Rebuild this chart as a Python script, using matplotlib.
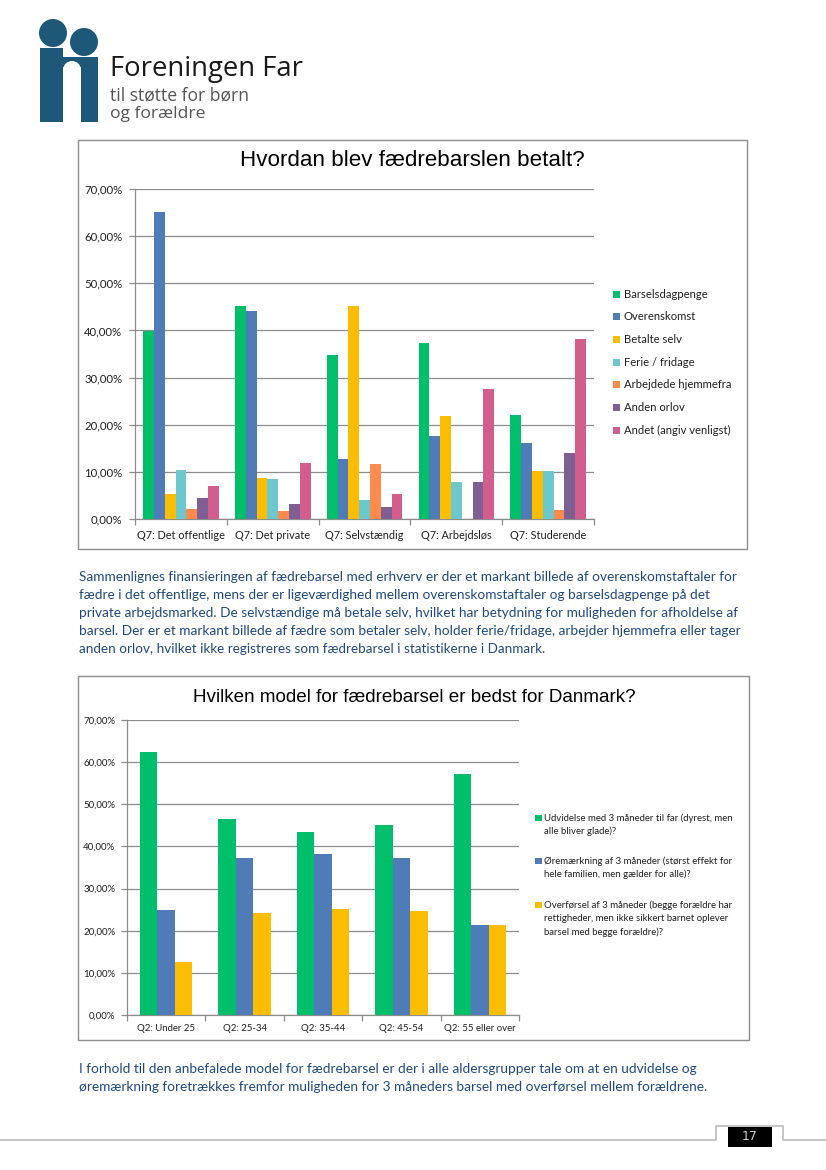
import matplotlib
matplotlib.use("Agg")
import matplotlib.pyplot as plt
from matplotlib.patches import Rectangle, Circle
import numpy as np

# ---------------- data ----------------
cats1 = ["Q7: Det offentlige", "Q7: Det private", "Q7: Selvstændig",
         "Q7: Arbejdsløs", "Q7: Studerende"]
series1 = ["Barselsdagpenge", "Overenskomst", "Betalte selv", "Ferie / fridage",
           "Arbejdede hjemmefra", "Anden orlov", "Andet (angiv venligst)"]
barselsdagpenge = [39.8, 45.1, 34.7, 37.3, 22.1]
overenskomst = [65.2, 44.1, 12.8, 17.7, 16.1]
betalte_selv = [5.2, 8.7, 45.1, 21.8, 10.1]
ferie_fridage = [10.3, 8.5, 4.0, 7.9, 10.1]
arbejdede_hjemmefra = [2.2, 1.8, 11.6, 0.0, 2.0]
anden_orlov = [4.5, 3.1, 2.6, 7.9, 14.1]
andet = [6.9, 11.8, 5.2, 27.6, 38.1]
colors1 = ["#00BF6A", "#4F7BB6", "#FBBD00", "#6CC8CC", "#FF8A4E", "#7F5F93", "#D35E8E"]

cats2 = ["Q2: Under 25", "Q2: 25-34", "Q2: 35-44", "Q2: 45-54", "Q2: 55 eller over"]
series2 = [["Udvidelse med 3 måneder til far (dyrest, men", "alle bliver glade)?"],
           ["Øremærkning af 3 måneder (størst effekt for", "hele familien, men gælder for alle)?"],
           ["Overførsel af 3 måneder (begge forældre har",
            "rettigheder, men ikke sikkert barnet oplever",
            "barsel med begge forældre)?"]]
udvidelse = [62.5, 46.5, 43.4, 45.2, 57.1]
oremaerkning = [25.0, 37.3, 38.1, 37.3, 21.4]
overforsel = [12.5, 24.1, 25.1, 24.7, 21.4]
colors2 = ["#00BF6A", "#4F7BB6", "#FBBD00"]

yticks = [0, 10, 20, 30, 40, 50, 60, 70]
ytick_labels = ["0,00%", "10,00%", "20,00%", "30,00%", "40,00%", "50,00%", "60,00%", "70,00%"]

title1 = "Hvordan blev fædrebarslen betalt?"
title2 = "Hvilken model for fædrebarsel er bedst for Danmark?"

para1 = ["Sammenlignes finansieringen af fædrebarsel med erhverv er der et markant billede af overenskomstaftaler for",
         "fædre i det offentlige, mens der er ligeværdighed mellem overenskomstaftaler og barselsdagpenge på det",
         "private arbejdsmarked. De selvstændige må betale selv, hvilket har betydning for muligheden for afholdelse af",
         "barsel. Der er et markant billede af fædre som betaler selv, holder ferie/fridage, arbejder hjemmefra eller tager",
         "anden orlov, hvilket ikke registreres som fædrebarsel i statistikerne i Danmark."]
para1_w = [654, 628, 654, 659, 464]
para2 = ["I forhold til den anbefalede model for fædrebarsel er der i alle aldersgrupper tale om at en udvidelse og",
         "øremærkning foretrækkes fremfor muligheden for 3 måneders barsel med overførsel mellem forældrene."]
para2_w = [614, 626]

# ---------------- figure ----------------
W, H = 826, 1170
fig = plt.figure(figsize=(W / 100, H / 100), dpi=100)
fig.patch.set_facecolor("white")
bg = fig.add_axes([0, 0, 1, 1])
bg.set_xlim(0, W)
bg.set_ylim(H, 0)
bg.axis("off")
renderer = fig.canvas.get_renderer()

TEXT_BLUE = "#1F497D"
GRID = "#8C8C8C"
LABEL = "#1E1E1E"


def add_ax(x0, y0, x1, y1):
    return fig.add_axes([x0 / W, 1 - y1 / H, (x1 - x0) / W, (y1 - y0) / H])


def fit_text(x, y, s, width, size0=10, **kw):
    t = bg.text(x, y, s, fontsize=size0, **kw)
    bb = t.get_window_extent(renderer=renderer)
    t.set_fontsize(size0 * width / bb.width)
    return t


# ---------------- logo ----------------
LOGO = "#1E5878"
bg.add_patch(Circle((53, 33), 14, color=LOGO, lw=0))
bg.add_patch(Circle((84, 42), 14, color=LOGO, lw=0))
bg.add_patch(Rectangle((40, 48), 23, 74, color=LOGO, lw=0))
bg.add_patch(Rectangle((81, 57), 17, 65, color=LOGO, lw=0))
bg.add_patch(Rectangle((63, 57), 35, 10, color=LOGO, lw=0))
bg.add_patch(Circle((72, 70), 9, color="white", lw=0))
fit_text(110, 76, "Foreningen Far", 193, family="Open Sans", color="#1A1A1A", va="baseline")
fit_text(110, 101, "til støtte for børn", 139, family="Open Sans", color="#555555", va="baseline")
fit_text(110, 118, "og forældre", 95, family="Open Sans", color="#555555", va="baseline")

# ---------------- chart 1 ----------------
bg.add_patch(Rectangle((78, 140), 669, 409, fill=False, edgecolor=GRID, lw=1))
fit_text(412, 161, title1, 345, family="Liberation Sans", color="black", ha="center", va="center")


def style_ax(ax, cats, tick_fs, lab_fs, ypad, xpad):
    ax.set_xlim(-0.5, len(cats) - 0.5)
    ax.set_ylim(0, 70)
    ax.set_yticks(yticks)
    ax.set_yticklabels(ytick_labels, family="Lato", fontsize=tick_fs)
    ax.yaxis.grid(True, color=GRID, lw=0.9)
    ax.set_axisbelow(True)
    for s in ["top", "right"]:
        ax.spines[s].set_visible(False)
    for s in ["left", "bottom"]:
        ax.spines[s].set_color(GRID)
        ax.spines[s].set_linewidth(0.9)
    ax.tick_params(axis="y", length=4, color=GRID, width=0.9, pad=ypad, labelcolor=LABEL)
    ax.set_xticks(range(len(cats)))
    ax.set_xticklabels(cats, family="Lato", fontsize=lab_fs, color=LABEL)
    ax.tick_params(axis="x", which="major", length=0, pad=xpad)
    ax.set_xticks(np.arange(-0.5, len(cats)), minor=True)
    ax.tick_params(axis="x", which="minor", length=4, color=GRID, width=0.9)


ax1 = add_ax(135, 189, 594, 519)
vals1 = [barselsdagpenge, overenskomst, betalte_selv, ferie_fridage,
         arbejdede_hjemmefra, anden_orlov, andet]
x1 = np.arange(len(cats1))
w1 = 1 / 8.5
for i, v in enumerate(vals1):
    ax1.bar(x1 + (i - 3) * w1, v, w1, color=colors1[i], lw=0, zorder=3)
style_ax(ax1, cats1, 8.2, 7.8, 5.0, 8)

for i, name in enumerate(series1):
    yy = 294 + i * 22.7
    bg.add_patch(Rectangle((613, yy - 3.5), 7, 7, color=colors1[i], lw=0))
    bg.text(624, yy, name, family="Lato", fontsize=8.1, color=LABEL, va="center")

# ---------------- paragraph 1 ----------------
for i, (line, wd) in enumerate(zip(para1, para1_w)):
    fit_text(79, 581 + i * 18, line, wd, family="Lato", color=TEXT_BLUE, va="baseline")

# ---------------- chart 2 ----------------
bg.add_patch(Rectangle((78, 676), 671, 364, fill=False, edgecolor=GRID, lw=1))
fit_text(414, 698, title2, 447, family="Liberation Sans", color="black", ha="center", va="center")

ax2 = add_ax(127, 720, 519, 1015)
vals2 = [udvidelse, oremaerkning, overforsel]
x2 = np.arange(len(cats2))
w2 = 1 / 4.5
for i, v in enumerate(vals2):
    ax2.bar(x2 + (i - 1) * w2, v, w2, color=colors2[i], lw=0, zorder=3)
style_ax(ax2, cats2, 7.0, 6.9, 4.5, 6.5)

starts = [818, 861, 905]
for i, lines in enumerate(series2):
    y0 = starts[i]
    bg.add_patch(Rectangle((535, y0 - 3.2), 6.5, 6.5, color=colors2[i], lw=0))
    for j, ln in enumerate(lines):
        bg.text(544, y0 + j * 13.4, ln, family="Lato", fontsize=6.9, color=LABEL, va="center")

# ---------------- paragraph 2 ----------------
for i, (line, wd) in enumerate(zip(para2, para2_w)):
    fit_text(79, 1073 + i * 18, line, wd, family="Lato", color=TEXT_BLUE, va="baseline")

# ---------------- footer ----------------
FOOT = "#BBBBBB"
bg.plot([0, 716, 716, 783, 783, W], [1140, 1140, 1126, 1126, 1140, 1140], color=FOOT, lw=1.2)
bg.add_patch(Rectangle((728, 1127), 44, 20, color="black", lw=0))
bg.text(750, 1137, "17", family="DejaVu Sans", fontsize=9, color="#CCCCCC", ha="center", va="center")

fig.savefig("out.png", dpi=100)
